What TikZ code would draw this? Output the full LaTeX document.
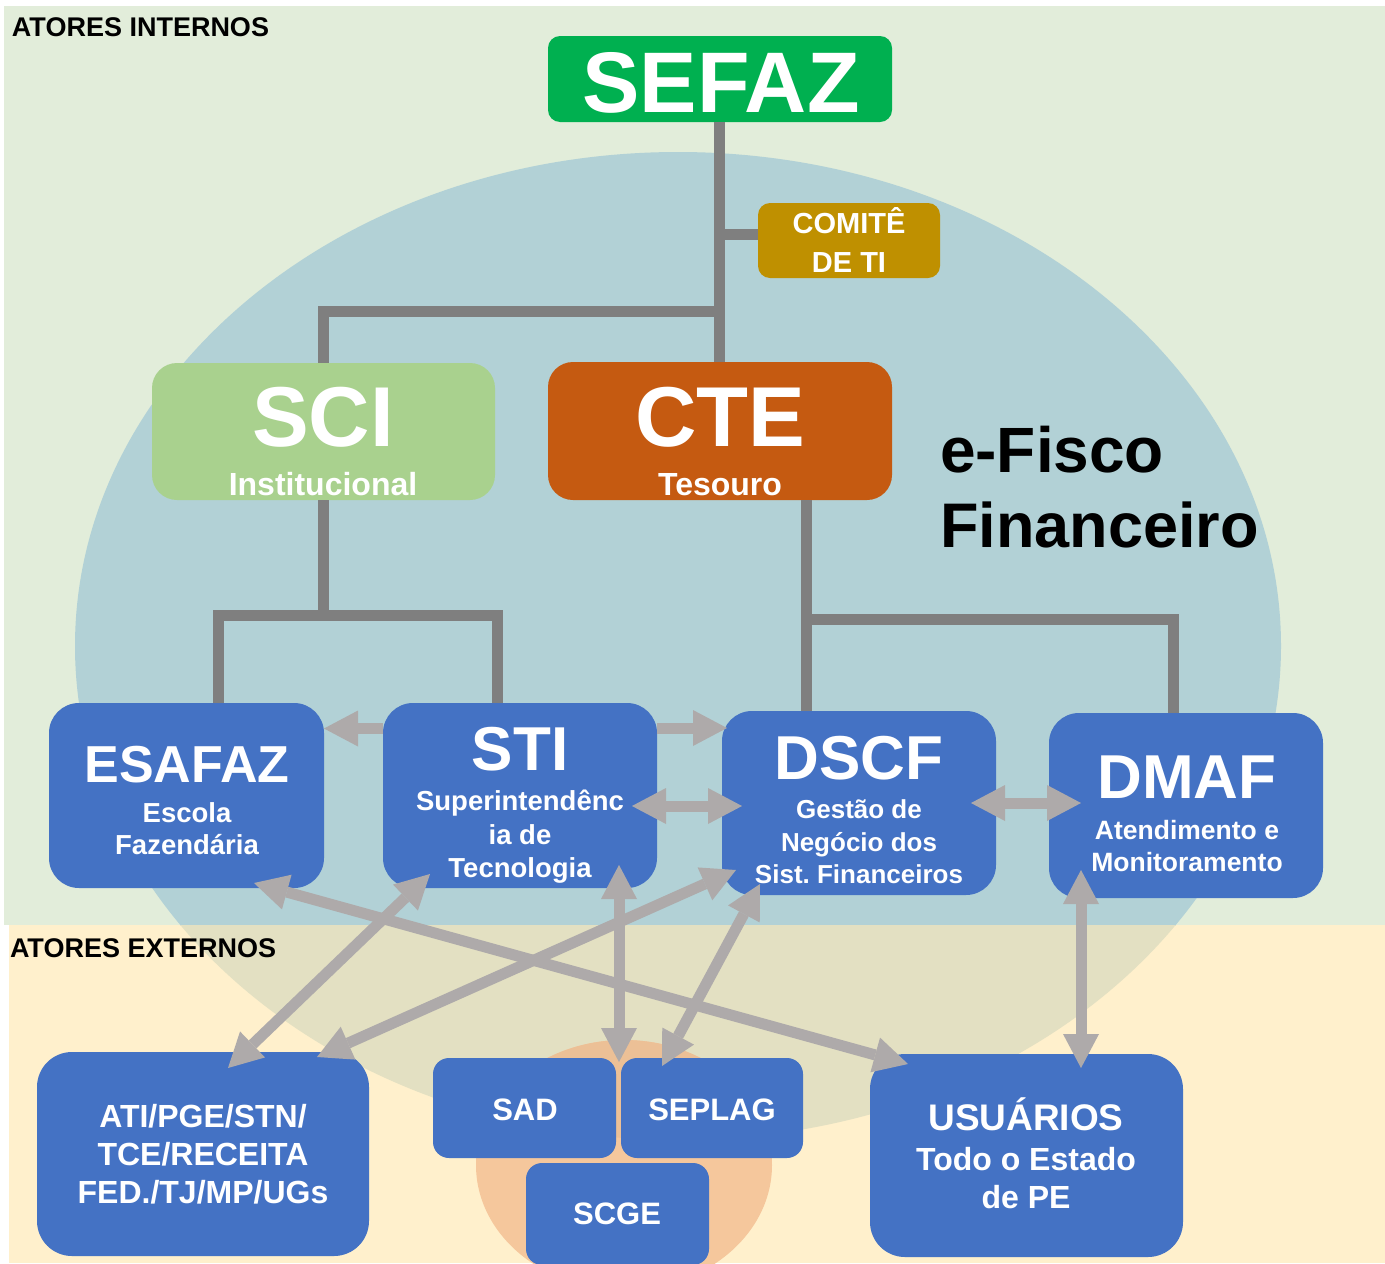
\documentclass[tikz,border=0pt]{standalone}
\usepackage{fontspec}
\setmainfont{Liberation Sans}
\usetikzlibrary{arrows.meta,calc}
\frenchspacing
\definecolor{bgG}{HTML}{E2EDDA}
\definecolor{bgC}{HTML}{FFF0CC}
\definecolor{ellB}{HTML}{B2D1D6}
\definecolor{ellC}{HTML}{E3E0C2}
\definecolor{orA}{HTML}{F5C79C}
\definecolor{orB}{HTML}{ECC096}
\definecolor{sefazG}{HTML}{00B050}
\definecolor{goldC}{HTML}{BF9000}
\definecolor{sciG}{HTML}{A9D18E}
\definecolor{cteO}{HTML}{C55A11}
\definecolor{boxB}{HTML}{4472C4}
\definecolor{treeG}{HTML}{7F7F7F}
\definecolor{arrG}{HTML}{AEAAAA}
\newcommand\myfs[1]{\fontsize{#1}{#1}\selectfont\bfseries}
\begin{document}
\begin{tikzpicture}[x=1pt,y=-1pt,
  box/.style={inner sep=0pt,outer sep=0pt,draw=none},
  lbl/.style={inner sep=0pt,outer sep=0pt,anchor=base,text=white},
  blk/.style={inner sep=0pt,outer sep=0pt,anchor=base west,text=black},
  tree/.style={draw=treeG,line width=11pt,line join=miter},
  tipa/.tip={Triangle[width=36pt,length=34pt,line width=0pt]},
  arr/.style={draw=arrG,line width=11pt,tipa-tipa},
  arrone/.style={draw=arrG,line width=11pt,-tipa}]
\useasboundingbox (0,0) rectangle (1385,1264);
% backgrounds
\fill[white] (0,0) rectangle (1385,1264);
\fill[bgG] (4,6) rectangle (1385,925);
\fill[bgC] (9,925) rectangle (1385,1263);
\begin{scope}
  \clip (0,0) rectangle (1385,925);
  \fill[ellB] (678,646) ellipse [x radius=603pt, y radius=494pt];
\end{scope}
\begin{scope}
  \clip (0,925) rectangle (1385,1264);
  \fill[ellC] (678,646) ellipse [x radius=603pt, y radius=494pt];
\end{scope}
\begin{scope}
  \clip (0,0) rectangle (1385,1263);
  \fill[orA] (624,1165) ellipse [x radius=148pt, y radius=125pt];
  \clip (678,646) ellipse [x radius=603pt, y radius=494pt];
  \fill[orB] (624,1165) ellipse [x radius=148pt, y radius=125pt];
\end{scope}
% boxes
\node[box,fill=sefazG,minimum width=344pt,minimum height=86pt,rounded corners=12pt] (sefaz) at (720,79) {};
\node[box,fill=goldC,minimum width=182pt,minimum height=75pt,rounded corners=12pt] (comite) at (849,240.5) {};
\node[box,fill=sciG,minimum width=343pt,minimum height=137pt,rounded corners=25pt] (sci) at (323.5,431.5) {};
\node[box,fill=cteO,minimum width=344pt,minimum height=138pt,rounded corners=25pt] (cte) at (720,431) {};
\node[box,fill=boxB,minimum width=275pt,minimum height=185pt,rounded corners=30pt] (esafaz) at (186.5,795.5) {};
\node[box,fill=boxB,minimum width=274pt,minimum height=185pt,rounded corners=30pt] (sti) at (520,795.5) {};
\node[box,fill=boxB,minimum width=274pt,minimum height=184pt,rounded corners=30pt] (dscf) at (859,803) {};
\node[box,fill=boxB,minimum width=274pt,minimum height=185pt,rounded corners=30pt] (dmaf) at (1186,805.5) {};
\node[box,fill=boxB,minimum width=332pt,minimum height=204pt,rounded corners=35pt] (ati) at (203,1154) {};
\node[box,fill=boxB,minimum width=183pt,minimum height=100pt,rounded corners=16pt] (sad) at (524.5,1108) {};
\node[box,fill=boxB,minimum width=182pt,minimum height=100pt,rounded corners=16pt] (seplag) at (712,1108) {};
\node[box,fill=boxB,minimum width=183pt,minimum height=102pt,rounded corners=16pt] (scge) at (617.5,1214) {};
\node[box,fill=boxB,minimum width=313pt,minimum height=203pt,rounded corners=35pt] (usu) at (1026.5,1155.5) {};
% tree connectors
\coordinate (j1) at (719,234);
\coordinate (j2) at (719,311);
\coordinate (j3) at (323.5,615);
\coordinate (j4) at (806,619);
\draw[tree] ($(sefaz.south)+(-1,0)$) -- ($(cte.north)+(-1,0)$);
\draw[tree] (j1) -- (j1 -| comite.west);
\draw[tree] (j2) -| (sci.north);
\draw[tree] (sci.south) -- (j3);
\draw[tree] ($(esafaz.north)+(31.5,0)$) |- (j3) -| ($(sti.north)+(-23,0)$);
\draw[tree] ($(cte.south)+(86,0)$) -- ($(dscf.north)+(-53,0)$);
\draw[tree] (j4) -| ($(dmaf.north)+(-13,0)$);
% arrows
\draw[arrone] ($(sti.west)+(0,-67)$) -- ($(esafaz.east)+(0,-67)$);
\draw[arrone] ($(sti.east)+(0,-67.5)$) -- ($(dscf.west)+(5,-75)$);
\draw[arr] ($(sti.east)+(-25,10.5)$) -- ($(dscf.west)+(20,3)$);
\draw[arr] ($(dscf.east)+(-25,0)$) -- ($(dmaf.west)+(32,-2.5)$);
\draw[arr] ($(dmaf.south)+(-105,-28)$) -- ($(usu.north)+(54.5,14)$);
\draw[arr] ($(esafaz.south east)+(-70,-5)$) -- ($(usu.north west)+(38,10)$);
\draw[arr] ($(sti.south west)+(47,-14)$) -- ($(ati.north)+(25,16)$);
\draw[arr] ($(dscf.south west)+(14,-25)$) -- ($(ati.north east)+(-52,5)$);
\draw[arr] ($(sti.south east)+(-38,-23)$) -- ($(sad.north east)+(3,4)$);
\draw[arr] ($(dscf.south west)+(38,-11)$) -- ($(seplag.north west)+(41,8)$);
% texts
\node[blk] (intT) at (12,36) {\myfs{27}ATORES INTERNOS};
\node[blk] (extT) at (10,957) {\myfs{27}ATORES EXTERNOS};
\node[blk] (ef1) at (940,472) {\myfs{64}e-Fisco};
\node[blk] (ef2) at (940,547) {\myfs{63}Financeiro};
\node[lbl] (sefazT) at (721,112) {\myfs{86}SEFAZ};
\node[lbl] (comT1) at (849,233) {\myfs{29}COMITÊ};
\node[lbl] (comT2) at (849,272) {\myfs{29}DE TI};
\node[lbl] (sciT) at (323,446) {\myfs{85}SCI};
\node[lbl] (sciS) at (323,495) {\myfs{32}Institucional};
\node[lbl] (cteT) at (720,446) {\myfs{85}CTE};
\node[lbl] (cteS) at (720,495) {\myfs{32}Tesouro};
\node[lbl] (esaT) at (187,782) {\myfs{52}ESAFAZ};
\node[lbl] (esaS1) at (187,822) {\myfs{27.5}Escola};
\node[lbl] (esaS2) at (187,854) {\myfs{27.5}Fazendária};
\node[lbl] (stiT) at (520,770) {\myfs{62}STI};
\node[lbl] (stiS1) at (520,810) {\myfs{27.5}Superintendênc};
\node[lbl] (stiS2) at (520,844) {\myfs{27.5}ia de};
\node[lbl] (stiS3) at (520,877) {\myfs{27.5}Tecnologia};
\node[lbl] (dscfT) at (859,779) {\myfs{62}DSCF};
\node[lbl] (dscfS1) at (859,818) {\myfs{26}Gestão de};
\node[lbl] (dscfS2) at (859,851) {\myfs{26}Negócio dos};
\node[lbl] (dscfS3) at (859,883) {\myfs{26}Sist. Financeiros};
\node[lbl] (dmafT) at (1187,798) {\myfs{62}DMAF};
\node[lbl] (dmafS1) at (1187,839) {\myfs{26.5}Atendimento e};
\node[lbl] (dmafS2) at (1187,871) {\myfs{26.5}Monitoramento};
\node[lbl] (atiS1) at (203,1127) {\myfs{32}ATI/PGE/STN/};
\node[lbl] (atiS2) at (203,1165) {\myfs{32}TCE/RECEITA};
\node[lbl] (atiS3) at (203,1203) {\myfs{32}FED./TJ/MP/UGs};
\node[lbl] (sadT) at (525,1120) {\myfs{31}SAD};
\node[lbl] (seplagT) at (712,1120) {\myfs{31}SEPLAG};
\node[lbl] (scgeT) at (617,1224) {\myfs{31}SCGE};
\node[lbl] (usuT) at (1026,1130) {\myfs{37}USUÁRIOS};
\node[lbl] (usuS1) at (1026,1170) {\myfs{32}Todo o Estado};
\node[lbl] (usuS2) at (1026,1208) {\myfs{32}de PE};
\end{tikzpicture}
\end{document}
